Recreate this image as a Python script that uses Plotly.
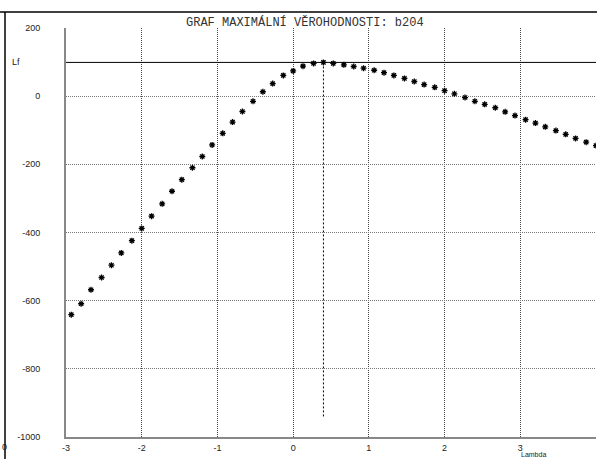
import plotly.graph_objects as go

lam = [-2.93, -2.8, -2.67, -2.53, -2.4, -2.27, -2.13, -2.0, -1.87, -1.73, -1.6, -1.47,
       -1.33, -1.2, -1.07, -0.93, -0.8, -0.67, -0.53, -0.4, -0.27, -0.13, 0.0, 0.13,
       0.27, 0.4, 0.53, 0.67, 0.8, 0.93, 1.07, 1.2, 1.33, 1.47, 1.6, 1.73, 1.87, 2.0,
       2.13, 2.27, 2.4, 2.53, 2.67, 2.8, 2.93, 3.07, 3.2, 3.33, 3.47, 3.6, 3.73, 3.87, 4.0]
lf = [-641, -609, -568, -532, -496, -460, -424, -388, -352, -316, -279, -245,
      -210, -177, -143, -109, -76, -45, -15, 13, 37, 61, 74, 88,
      96, 99, 96, 92, 87, 82, 76, 69, 61, 52, 43, 34, 26, 16,
      7, -4, -15, -24, -34, -46, -57, -69, -79, -90, -101, -112, -124, -135, -145]

x_ticks = [-3, -2, -1, 0, 1, 2, 3, 4]
x_labels = ["-3", "-2", "-1", "0", "1", "2", "3", ""]
y_ticks = [200, 0, -200, -400, -600, -800, -1000]
y_labels = ["200", "0", "-200", "-400", "-600", "-800", "-1000"]

lf_max = 99
lam_max = 0.4
vline_bottom = -940

title = "GRAF MAXIMÁLNÍ VĚROHODNOSTI: b204"

W, H = 597, 459
L, R, T, B = 66, 1, 28, 22
pw, ph = W - L - R, H - T - B


def px(x):
    return (x - L) / pw


def py(y):
    return (H - B - y) / ph


fig = go.Figure()
fig.add_trace(go.Scatter(
    x=lam, y=lf, mode="markers",
    marker=dict(symbol="asterisk", size=5, color="black",
                line=dict(color="black", width=1.3)),
    showlegend=False,
))

shapes = [
    dict(type="line", xref="paper", yref="y", x0=0, x1=1, y0=lf_max, y1=lf_max,
         line=dict(color="black", width=1)),
    dict(type="line", xref="x", yref="y", x0=lam_max, x1=lam_max, y0=lf_max, y1=vline_bottom,
         line=dict(color="black", width=1, dash="2px,2px")),
    dict(type="line", xref="paper", yref="paper", x0=px(0), x1=px(W), y0=py(12), y1=py(12),
         line=dict(color="black", width=1.5)),
    dict(type="line", xref="paper", yref="paper", x0=px(5), x1=px(5), y0=py(12), y1=py(H),
         line=dict(color="black", width=1.5)),
]

font_small = dict(family="Liberation Sans, Arial", size=9, color="#222")

annotations = [
    dict(text=title, xref="paper", yref="paper", x=px(305), y=py(22.5), xanchor="center",
         yanchor="middle", showarrow=False,
         font=dict(family="Liberation Mono, DejaVu Sans Mono", size=12, color="#333")),
    dict(text="Lf", xref="paper", yref="paper", x=px(10), y=py(62), xanchor="left",
         yanchor="middle", showarrow=False, font=font_small),
    dict(text="Lambda", xref="paper", yref="paper", x=px(533), y=py(449), xanchor="center",
         yanchor="top", showarrow=False, font=dict(family="Liberation Sans, Arial", size=7, color="#222")),
    dict(text="0", xref="paper", yref="paper", x=px(0), y=py(447), xanchor="left",
         yanchor="middle", showarrow=False, font=font_small),
]

fig.update_layout(
    width=W, height=H,
    margin=dict(l=L, r=R, t=T, b=B, pad=0),
    paper_bgcolor="white", plot_bgcolor="white",
    shapes=shapes, annotations=annotations,
    xaxis=dict(range=[-3, 4], tickvals=x_ticks, ticktext=x_labels,
               showgrid=True, gridcolor="#444", griddash="1px,1px", gridwidth=1,
               zeroline=False, showline=True, linecolor="#888", linewidth=2,
               ticks="", tickfont=font_small, ticklabelstandoff=1, fixedrange=True),
    yaxis=dict(range=[-1000, 200], tickvals=y_ticks, ticktext=y_labels,
               showgrid=True, gridcolor="#777", griddash="1px,1px", gridwidth=1,
               zeroline=False, showline=True, linecolor="#888", linewidth=2,
               ticks="", tickfont=font_small, ticklabelstandoff=22, fixedrange=True),
)

fig.write_html("out.html")
